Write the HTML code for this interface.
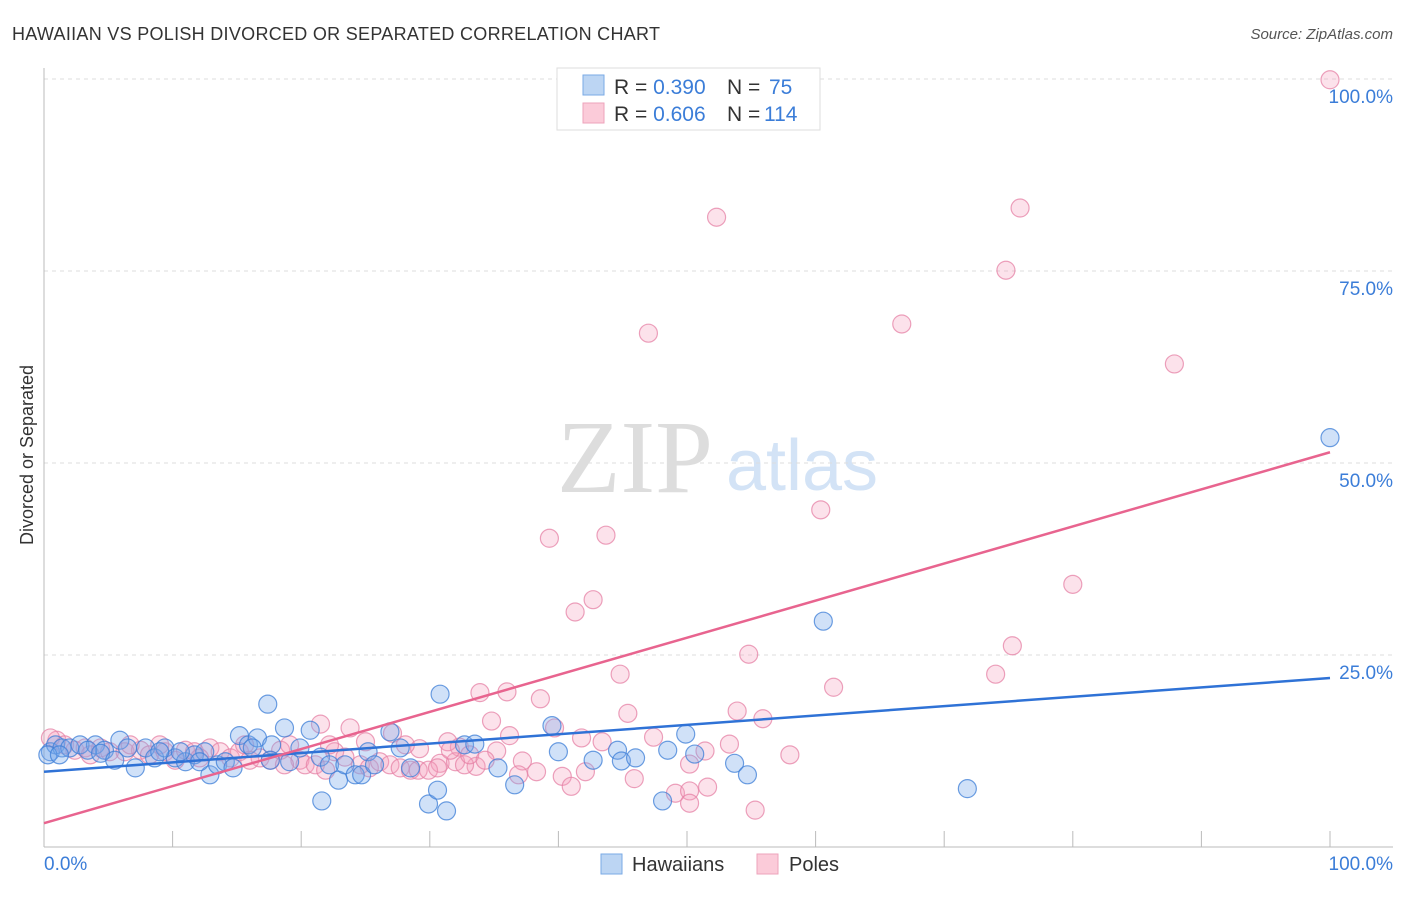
<!DOCTYPE html>
<html><head><meta charset="utf-8"><style>
body{margin:0;background:#fff;font-family:"Liberation Sans",sans-serif}
svg text{font-family:"Liberation Sans",sans-serif}
</style></head><body>
<svg id="c" width="1406" height="892">
<text x="12" y="40" font-size="18" fill="#333" textLength="648" lengthAdjust="spacing">HAWAIIAN VS POLISH DIVORCED OR SEPARATED CORRELATION CHART</text>
<text x="1393" y="39" font-size="15" fill="#555" font-style="italic" text-anchor="end">Source: ZipAtlas.com</text>
<text x="635" y="492" font-size="104" fill="#ddd" text-anchor="middle" style="font-family:'Liberation Serif',serif">ZIP</text>
<text x="802" y="490" font-size="72" fill="#d3e3f6" text-anchor="middle">atlas</text>
<text transform="translate(33,455) rotate(-90)" font-size="18" fill="#333" text-anchor="middle">Divorced or Separated</text>
<g id="grid"></g><g id="marks"></g>
<g>
<rect x="557" y="68" width="263" height="62" fill="#fff" stroke="#ddd"/>
<rect x="583" y="75" width="21" height="20" fill="#bcd5f3" stroke="#7aaae6"/>
<rect x="583" y="103" width="21" height="20" fill="#fbcbd9" stroke="#eea3bb"/>
<text x="614" y="94" font-size="21" fill="#333">R = <tspan fill="#3b7dd8">0.390</tspan><tspan x="727">N = </tspan><tspan x="769" fill="#3b7dd8">75</tspan></text>
<text x="614" y="121" font-size="21" fill="#333">R = <tspan fill="#3b7dd8">0.606</tspan><tspan x="727">N = </tspan><tspan x="764" fill="#3b7dd8">114</tspan></text>
</g>
<g>
<rect x="601" y="854" width="21" height="20" fill="#bcd5f3" stroke="#7aaae6"/>
<text x="632" y="871" font-size="20" fill="#333">Hawaiians</text>
<rect x="757" y="854" width="21" height="20" fill="#fbcbd9" stroke="#eea3bb"/>
<text x="789" y="871" font-size="20" fill="#333">Poles</text>
</g>
</svg>
<script>
const blueX=[0.5,0.9,1.4,2.0,2.8,4.0,4.7,5.9,6.5,7.1,7.9,8.6,9.4,10.2,11.0,11.7,12.5,12.9,13.5,14.1,14.7,15.2,15.9,16.6,17.4,17.7,18.7,19.1,19.9,20.7,21.5,21.6,22.2,22.9,23.4,24.2,24.7,25.2,25.7,26.9,27.7,28.5,29.9,30.6,30.8,31.3,32.7,33.5,35.3,36.6,39.5,40.0,42.7,44.6,44.9,46.0,48.1,48.5,49.9,50.6,53.7,54.7,60.6,71.8,100,0.3,1.2,3.4,4.4,5.5,9.0,10.6,12.1,16.2,17.6];
const blueY=[12.4,13.3,12.9,12.9,13.3,13.3,12.6,13.9,12.9,10.3,12.9,11.6,12.9,11.6,11.1,12.0,12.4,9.4,10.7,11.1,10.3,14.5,13.3,14.2,18.6,13.3,15.5,11.1,12.9,15.2,11.7,6.0,10.7,8.7,10.7,9.4,9.4,12.4,10.7,15.0,12.9,10.3,5.6,7.4,19.9,4.7,13.3,13.4,10.3,8.1,15.8,12.4,11.3,12.6,11.2,11.6,6.0,12.6,14.7,12.1,10.9,9.4,29.4,7.6,53.3,12.0,12.0,12.6,12.2,11.3,12.4,12.4,11.1,12.9,11.3];
const pinkX=[100,52.3,75.9,74.8,66.7,47.0,87.9,60.4,39.3,43.7,80.0,41.3,42.7,75.3,54.8,44.8,74.0,61.4,33.9,36.0,38.6,45.4,53.9,55.9,21.5,23.8,27.1,34.8,36.2,39.7,41.8,43.4,47.4,51.4,53.3,58.0,30.8,29.2,32.3,33.6,35.2,37.2,38.3,36.9,40.3,41.0,42.1,45.9,50.2,49.1,50.2,51.6,50.2,55.3,
1.0,1.6,2.4,3.2,4.4,5.1,6.3,7.5,8.2,9.4,10.2,11.0,11.7,12.9,13.7,14.5,15.2,16.0,16.8,17.6,18.4,19.1,19.9,20.3,21.1,21.9,22.6,23.4,24.6,25.3,26.1,26.9,27.7,28.5,29.1,29.9,30.6,31.4,32.0,32.7,0.5,3.6,6.7,9.0,12.1,15.6,18.7,22.2,25.0,28.1,33.1,34.3,31.6];
const pinkY=[99.9,82.0,83.2,75.1,68.1,66.9,62.9,43.9,40.2,40.6,34.2,30.6,32.2,26.2,25.1,22.5,22.5,20.8,20.1,20.2,19.3,17.4,17.7,16.7,16.0,15.5,14.8,16.4,14.5,15.5,14.2,13.7,14.3,12.5,13.4,12.0,10.9,12.8,13.0,10.5,12.5,11.2,9.8,9.4,9.2,7.9,9.8,8.9,10.8,7.0,7.3,7.8,5.7,4.8,
13.9,13.3,12.6,12.9,12.9,12.4,12.4,12.6,12.0,12.4,11.3,12.6,12.4,12.9,12.4,11.6,12.4,11.3,11.6,11.3,12.6,13.3,11.3,10.7,10.7,10.0,12.4,11.7,10.7,10.3,11.1,10.7,10.3,10.0,10.0,10.0,10.3,13.7,11.1,10.7,14.2,12.0,13.3,13.3,11.6,13.3,10.7,13.3,13.7,13.3,12.0,11.3,12.6];
const blueTrend=[9.8,22.0];
const pinkTrend=[3.1,51.4];
const yTicks=[25,50,75,100];
const yTickLabels=["25.0%","50.0%","75.0%","100.0%"];
const xTicks=[0,10,20,30,40,50,60,70,80,90,100];

const NS="http://www.w3.org/2000/svg";
const X=v=>44+v*12.86, Y=v=>847-v*7.68;
function mk(t,a,p){const e=document.createElementNS(NS,t);for(const k in a)e.setAttribute(k,a[k]);p.appendChild(e);return e;}
const g=document.getElementById('grid'), m=document.getElementById('marks');
yTicks.forEach((t,i)=>{
 const l=mk('line',{x1:44,x2:1393,y1:Y(t),y2:Y(t),stroke:'#ddd','stroke-dasharray':'4,4'},g);
 
 
 const tx=mk('text',{x:1393,y:Y(t)+24,'font-size':19,fill:'#3b7dd8','text-anchor':'end'},g);
 tx.textContent=yTickLabels[i];
 
 
});
const ya=mk('line',{x1:44,x2:44,y1:68,y2:847,stroke:'#bbb'},g);


const xa=mk('line',{x1:44,x2:1393,y1:847,y2:847,stroke:'#bbb'},g);


xTicks.forEach(t=>{const l=mk('line',{x1:X(t),x2:X(t),y1:831,y2:847,stroke:'#bbb'},g);
 
 });
const x0=mk('text',{x:44,y:870,'font-size':19,fill:'#3b7dd8'},g);x0.textContent='0.0%';


const x1=mk('text',{x:1393,y:870,'font-size':19,fill:'#3b7dd8','text-anchor':'end'},g);x1.textContent='100.0%';


function pts(xs,ys,fill,stroke,name){xs.forEach((x,i)=>{const c=mk('circle',{cx:X(x),cy:Y(ys[i]),r:9,fill:fill,stroke:stroke,'stroke-width':1.2},m);
 
 });}
pts(pinkX,pinkY,'rgba(245,160,190,0.3)','rgba(230,130,165,0.75)','poles-point');
pts(blueX,blueY,'rgba(120,170,235,0.35)','rgba(60,125,215,0.75)','hawaiians-point');
const bl=mk('line',{x1:X(0),y1:Y(blueTrend[0]),x2:X(100),y2:Y(blueTrend[1]),stroke:'#2f72d6','stroke-width':2.5},m);


const pl=mk('line',{x1:X(0),y1:Y(pinkTrend[0]),x2:X(100),y2:Y(pinkTrend[1]),stroke:'#e8648f','stroke-width':2.5},m);


</script>
</body></html>
